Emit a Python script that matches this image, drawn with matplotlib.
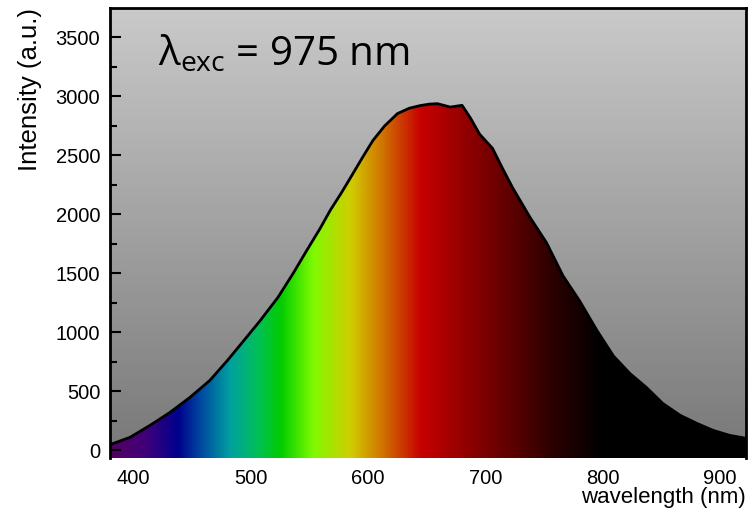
import numpy as np
import matplotlib
matplotlib.use("Agg")
import matplotlib.pyplot as plt
from matplotlib.colors import LinearSegmentedColormap

# emission spectrum
wavelength = [380, 397, 414, 431, 448, 465, 480, 494, 508, 523, 536, 548, 559, 568,
              577, 585, 595, 604, 614, 625, 635, 644, 652, 659, 670, 680, 687, 695,
              706, 714, 723, 738, 752, 766, 780, 795, 809, 823, 837, 851, 866, 880,
              894, 908, 922]
intensity = [48, 110, 211, 321, 448, 592, 761, 930, 1100, 1295, 1499, 1700, 1880, 2040,
             2180, 2312, 2480, 2626, 2750, 2855, 2900, 2922, 2935, 2939, 2910, 2925, 2820, 2680,
             2560, 2400, 2228, 1974, 1760, 1480, 1270, 1016, 800, 652, 534, 398, 296, 229,
             169, 127, 102]

yticks = [0, 500, 1000, 1500, 2000, 2500, 3000, 3500]
xticks = [400, 500, 600, 700, 800, 900]

xmin, xmax = 380, 922
ymin, ymax = -65, 3750

# colour of light along the wavelength axis
stops = [(380, (0.33, 0.0, 0.38)), (410, (0.25, 0.0, 0.48)), (437, (0.0, 0.0, 0.55)),
         (460, (0.0, 0.33, 0.63)), (482, (0.0, 0.63, 0.63)), (505, (0.0, 0.75, 0.35)),
         (525, (0.0, 0.80, 0.0)), (553, (0.50, 0.98, 0.0)), (585, (0.82, 0.80, 0.0)),
         (610, (0.82, 0.48, 0.0)), (645, (0.78, 0.0, 0.0)), (700, (0.48, 0.0, 0.0)),
         (760, (0.16, 0.0, 0.0)), (800, (0.0, 0.0, 0.0)), (922, (0.0, 0.0, 0.0))]
spec_cmap = LinearSegmentedColormap.from_list(
    "spec", [((w - xmin) / (xmax - xmin), c) for w, c in stops])
bg_cmap = LinearSegmentedColormap.from_list("bg", [(0.47, 0.47, 0.47), (0.79, 0.79, 0.79)])

fig = plt.figure(figsize=(7.55, 5.13), dpi=100)
ax = fig.add_axes([110 / 755, 1 - 458 / 513, 636 / 755, 450 / 513])

# grey background, darker towards the bottom
ax.imshow(np.linspace(0, 1, 256).reshape(-1, 1), cmap=bg_cmap, origin="lower",
          extent=[xmin, xmax, ymin, ymax], aspect="auto", zorder=0)

# rainbow fill clipped by the spectrum
fill = ax.fill_between(wavelength, intensity, ymin, color="none")
img = ax.imshow(np.linspace(0, 1, 512).reshape(1, -1), cmap=spec_cmap,
                extent=[xmin, xmax, ymin, ymax], aspect="auto", zorder=1)
img.set_clip_path(fill.get_paths()[0], transform=ax.transData)
ax.plot(wavelength, intensity, color="black", lw=2, zorder=2)

ax.set_xlim(xmin, xmax)
ax.set_ylim(ymin, ymax)
ax.set_xticks(xticks)
ax.set_yticks(yticks)
ax.set_yticks(np.arange(250, 3750, 500), minor=True)
ax.tick_params(axis="y", direction="in", length=8, width=1.5, labelsize=14.5, pad=7)
ax.tick_params(axis="y", which="minor", direction="in", length=5, width=1.5)
ax.tick_params(axis="x", length=0, labelsize=14.5, pad=8)
for lab in ax.get_xticklabels() + ax.get_yticklabels():
    lab.set_fontfamily("Liberation Sans")
for s in ["left", "top", "right"]:
    ax.spines[s].set_linewidth(2)
ax.spines["bottom"].set_visible(False)

ax.set_ylabel("Intensity (a.u.)", fontsize=18.5, family="Liberation Sans", loc="top", labelpad=10)
ax.set_xlabel("wavelength (nm)", fontsize=16, family="Liberation Sans", loc="right", labelpad=-1)

ax.text(0.075, 0.897, r"$\mathregular{\lambda_{exc}}$ = 975 nm", transform=ax.transAxes,
        fontsize=29, family="Open Sans", va="center", ha="left")

fig.savefig("out.png", dpi=100)
